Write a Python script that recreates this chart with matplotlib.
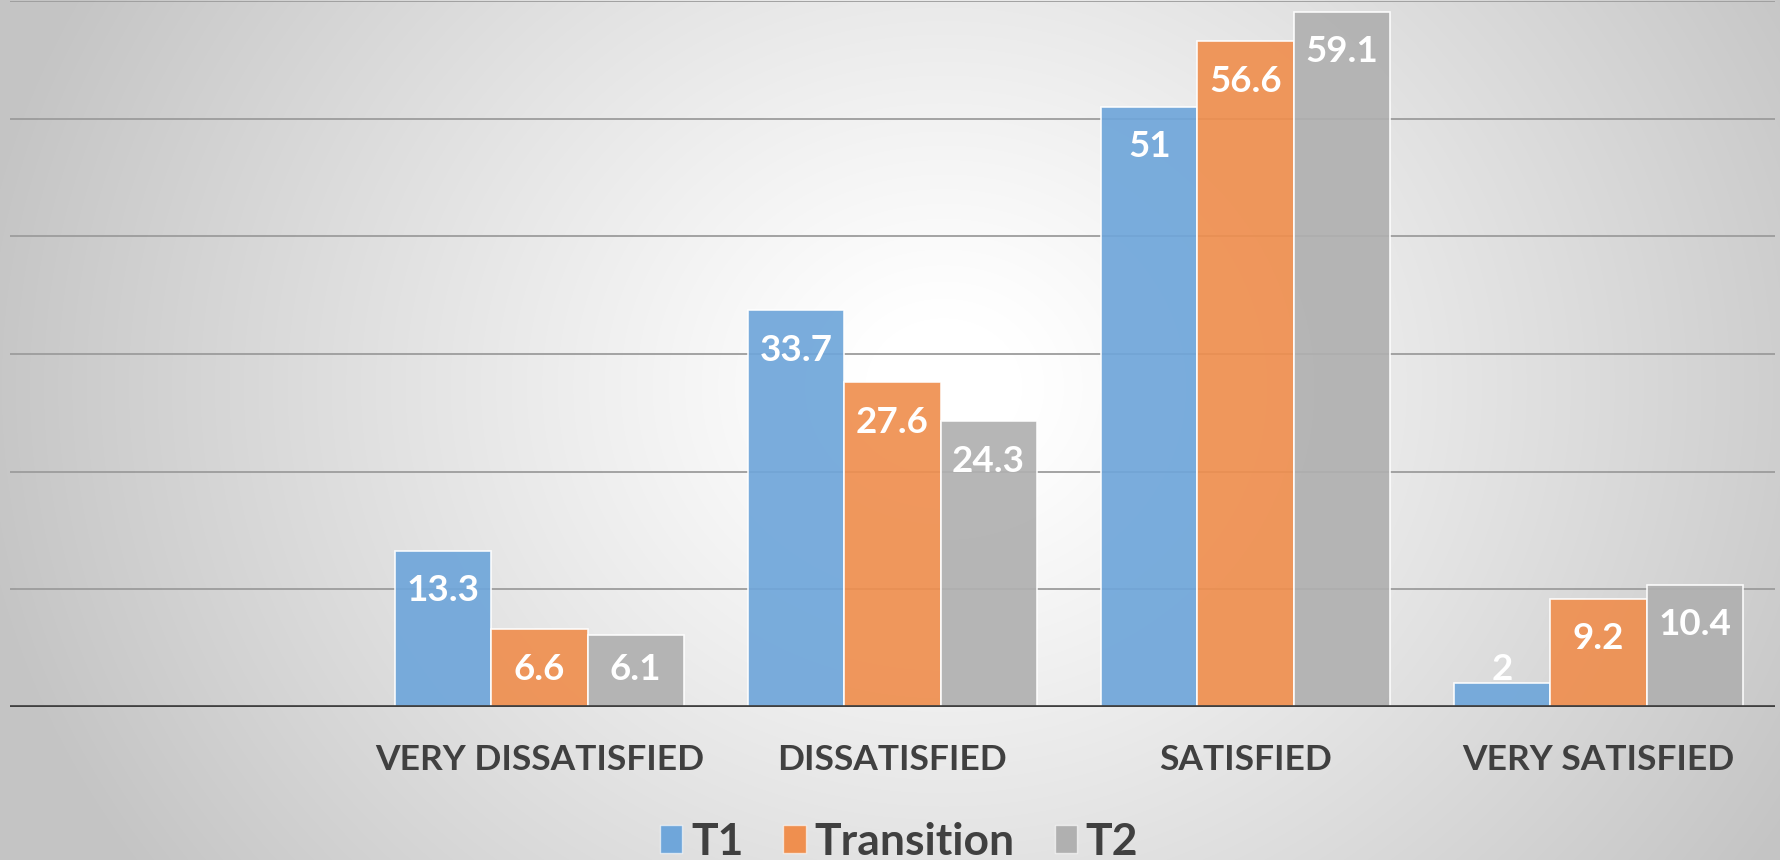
import numpy as np
import matplotlib
matplotlib.use("Agg")
import matplotlib.pyplot as plt
from matplotlib.patches import Patch

# ---- data ----
categories = ["", "VERY DISSATISFIED", "DISSATISFIED", "SATISFIED", "VERY SATISFIED"]
series_names = ["T1", "Transition", "T2"]
t1_values = [None, 13.3, 33.7, 51, 2]
transition_values = [None, 6.6, 27.6, 56.6, 9.2]
t2_values = [None, 6.1, 24.3, 59.1, 10.4]
series_colors = ["#6fa6da", "#ef8f4f", "#b0b0b0"]
grid_values = [10, 20, 30, 40, 50, 60]

W, H = 1781, 860
fig = plt.figure(figsize=(W / 100, H / 100), dpi=100)

# background radial gradient
bg = fig.add_axes([0, 0, 1, 1], zorder=-10)
yy, xx = np.mgrid[0:1:H * 1j, 0:1:W * 1j]
d = np.sqrt(((xx - 0.53) / 0.55) ** 2 + ((yy - 0.55) / 1.0) ** 2)
v = 1.0 - 0.23 * np.clip((d - 0.08) / 0.92, 0, 1) ** 1.1
img = np.dstack([v, v, v])
bg.imshow(img, extent=[0, 1, 0, 1], aspect="auto", origin="lower")
bg.set_axis_off()

ax = fig.add_axes([10 / W, 153 / H, 1765 / W, 706 / H])
ax.patch.set_alpha(0)
ax.set_xlim(-0.5, len(categories) - 0.5)
ax.set_ylim(0, 60)
for s in ax.spines.values():
    s.set_visible(False)
ax.set_yticks([])

for g in grid_values:
    ax.axhline(g, color="#9c9c9c", lw=1.3, zorder=0)
ax.axhline(0, color="#404040", lw=3.4, zorder=4)

font = "Lato"
width = 0.272
all_series = [t1_values, transition_values, t2_values]
for i, (vals, col) in enumerate(zip(all_series, series_colors)):
    xs = [j + (i - 1) * width for j, val in enumerate(vals) if val is not None]
    hs = [val for val in vals if val is not None]
    ax.bar(xs, hs, width=width, color=col, alpha=0.92, edgecolor=(1, 1, 1, 0.55),
           linewidth=1.2, zorder=2)
    for xv, hv in zip(xs, hs):
        ax.text(xv, max(hv - 3.4, 3.15), f"{hv:g}", ha="center", va="center",
                color="white", fontsize=26.5, fontweight="bold", family=font, zorder=5)

ax.set_xticks(range(len(categories)))
ax.set_xticklabels(categories, fontsize=25.5, fontweight="bold", color="#404040", family=font)
ax.tick_params(axis="x", length=0, pad=27)

handles = [Patch(facecolor=c, edgecolor=(1, 1, 1, 0.6)) for c in series_colors]
leg = fig.legend(handles, series_names, loc="center", bbox_to_anchor=(899 / W, 1 - 842 / H),
                 ncol=3, frameon=False, handlelength=0.5, handleheight=0.6,
                 handletextpad=0.2, columnspacing=0.9,
                 prop={"family": font, "weight": "bold", "size": 32})
for t in leg.get_texts():
    t.set_color("#404040")

fig.savefig("out.png", dpi=100)
